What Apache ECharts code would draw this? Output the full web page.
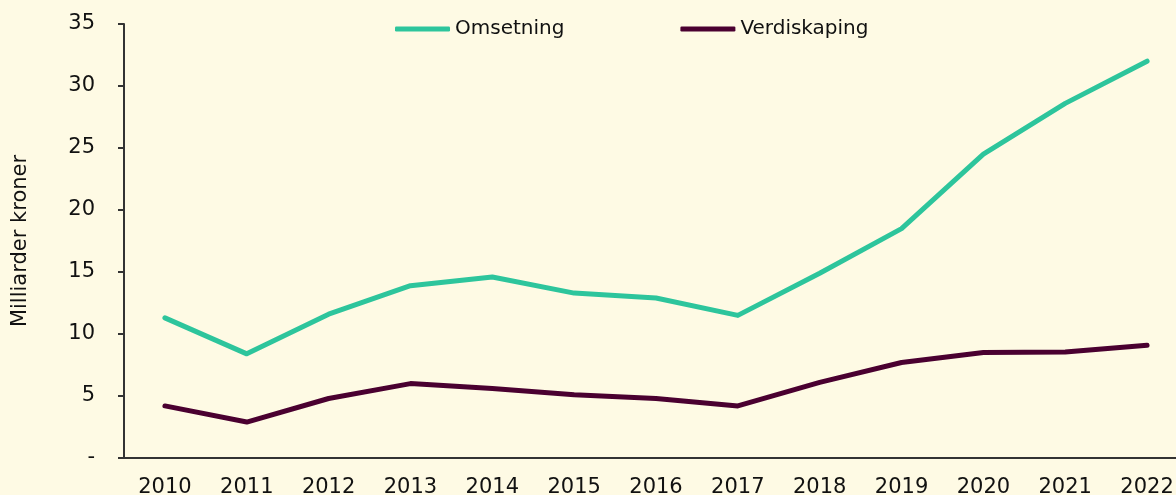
<!DOCTYPE html>
<html><head><meta charset="utf-8">
<script src="https://cdn.jsdelivr.net/npm/echarts@6/dist/echarts.min.js"></script>
<style>html,body{margin:0;padding:0;background:#FEFAE4;}#c{width:1176px;height:495px;}</style>
</head><body><div id="c"></div>
<script>
const years = ['2010','2011','2012','2013','2014','2015','2016','2017','2018','2019','2020','2021','2022'];
const omsetning = [11.3, 8.4, 11.6, 13.9, 14.6, 13.3, 12.9, 11.5, 14.9, 18.5, 24.5, 28.6, 32.0];
const verdiskaping = [4.2, 2.9, 4.8, 6.0, 5.6, 5.1, 4.8, 4.2, 6.1, 7.7, 8.5, 8.55, 9.1];
const yTicks = [0, 5, 10, 15, 20, 25, 30, 35];

const font = 'DejaVu Sans';
const chart = echarts.init(document.getElementById('c'), null, {renderer: 'canvas'});
chart.setOption({
  backgroundColor: '#FEFAE4',
  animation: false,
  textStyle: {fontFamily: font},
  legend: {
    top: 14, left: 390,
    itemGap: 116, itemWidth: 55, itemHeight: 5,
    textStyle: {fontFamily: font, fontSize: 20, color: '#111'},
    data: [
      {name: 'Omsetning', icon: 'roundRect'},
      {name: 'Verdiskaping', icon: 'roundRect'}
    ]
  },
  grid: {left: 124, right: -12, top: 24, bottom: 37, outerBoundsMode: 'none', containLabel: false},
  xAxis: {
    type: 'category', data: years, boundaryGap: true,
    axisLine: {lineStyle: {color: '#333', width: 2}},
    axisTick: {show: false},
    axisLabel: {fontFamily: font, fontSize: 21, color: '#111', margin: 19}
  },
  yAxis: {
    type: 'value', min: 0, max: 35, interval: 5,
    name: 'Milliarder kroner', nameLocation: 'middle', nameGap: 93, nameRotate: 90,
    nameTextStyle: {fontFamily: font, fontSize: 21, color: '#111'},
    axisLine: {show: true, lineStyle: {color: '#333', width: 2}},
    axisTick: {show: true, length: 6, lineStyle: {color: '#333', width: 2}},
    splitLine: {show: false},
    axisLabel: {fontFamily: font, fontSize: 21, color: '#111', margin: 29,
      formatter: v => yTicks.includes(v) ? (v === 0 ? '-' : String(v)) : ''}
  },
  series: [
    {name: 'Omsetning', type: 'line', data: omsetning, symbol: 'none',
     lineStyle: {color: '#2DC59C', width: 5, cap: 'round', join: 'round'}, itemStyle: {color: '#2DC59C'}},
    {name: 'Verdiskaping', type: 'line', data: verdiskaping, symbol: 'none',
     lineStyle: {color: '#4A0030', width: 5, cap: 'round', join: 'round'}, itemStyle: {color: '#4A0030'}}
  ]
});
</script></body></html>
